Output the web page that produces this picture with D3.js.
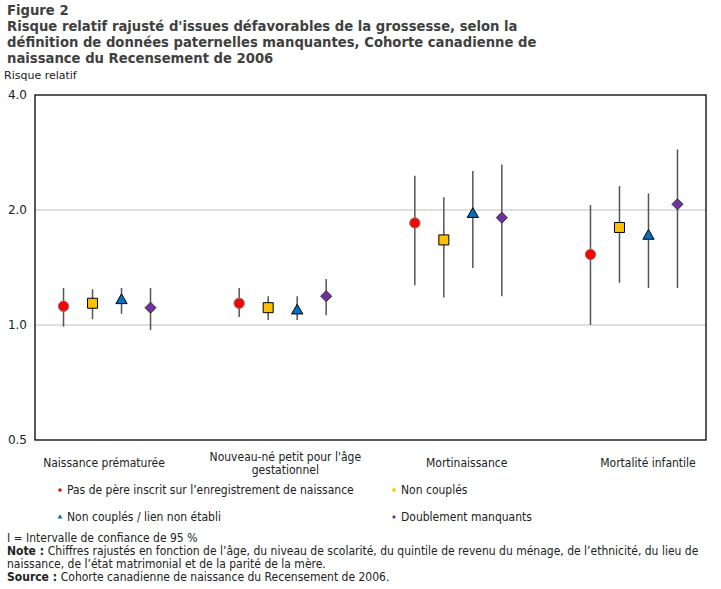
<!DOCTYPE html>
<html>
<head>
<meta charset="utf-8">
<script src="https://cdn.jsdelivr.net/npm/d3@7"></script>
<style>
  body { margin: 0; background: #fff; }
  svg text { font-family: "DejaVu Sans Condensed", "DejaVu Sans", sans-serif; }
</style>
</head>
<body>
<div class="chart"></div>
<script>
// data
const CATEGORIES = [
  ["Naissance prématurée"],
  ["Nouveau-né petit pour l'âge", "gestationnel"],
  ["Mortinaissance"],
  ["Mortalité infantile"],
];
const SERIES = [
  "Pas de père inscrit sur l’enregistrement de naissance",
  "Non couplés",
  "Non couplés / lien non établi",
  "Doublement manquants",
];
const EST_NOPERE = [1.12, 1.14, 1.85, 1.53];
const LOW_NOPERE = [0.99, 1.05, 1.27, 1.0];
const HIGH_NOPERE = [1.25, 1.25, 2.46, 2.06];
const EST_NONCOUPLES = [1.14, 1.11, 1.67, 1.8];
const LOW_NONCOUPLES = [1.035, 1.03, 1.18, 1.29];
const HIGH_NONCOUPLES = [1.24, 1.19, 2.16, 2.31];
const EST_LIEN = [1.16, 1.09, 1.95, 1.71];
const LOW_LIEN = [1.07, 1.03, 1.41, 1.25];
const HIGH_LIEN = [1.25, 1.19, 2.53, 2.21];
const EST_DOUBLE = [1.11, 1.19, 1.91, 2.07];
const LOW_DOUBLE = [0.97, 1.06, 1.19, 1.25];
const HIGH_DOUBLE = [1.25, 1.32, 2.63, 2.88];
const Y_TICKS = [0.5, 1, 2, 4];

const WIDTH = 721;
const HEIGHT = 589;
const PLOT = { left: 35, right: 706, top: 95, bottom: 440 };

const STYLES = [
  { type: d3.symbolCircle, size: 85, fill: "#ff0000", stroke: "#7f7f7f" },
  { type: d3.symbolSquare, size: 100, fill: "#ffc000", stroke: "#000" },
  { type: d3.symbolTriangle, size: 55, fill: "#0070c0", stroke: "#000" },
  { type: d3.symbolDiamond2 || d3.symbolDiamond, size: 78, fill: "#7030a0", stroke: "#333" },
];

const rows = [
  [EST_NOPERE, LOW_NOPERE, HIGH_NOPERE],
  [EST_NONCOUPLES, LOW_NONCOUPLES, HIGH_NONCOUPLES],
  [EST_LIEN, LOW_LIEN, HIGH_LIEN],
  [EST_DOUBLE, LOW_DOUBLE, HIGH_DOUBLE],
];
var points = [];
rows.forEach(function (r, s) {
  r[0].forEach(function (v, c) {
    points.push({ s: s, c: c, est: v, lo: r[1][c], hi: r[2][c] });
  });
});

var svg = d3
  .select(".chart")
  .append("svg")
  .attr("width", WIDTH)
  .attr("height", HEIGHT);

// title
const TITLE = [
  "Figure 2",
  "Risque relatif rajusté d'issues défavorables de la grossesse, selon la",
  "définition de données paternelles manquantes, Cohorte canadienne de",
  "naissance du Recensement de 2006",
];
svg
  .append("g")
  .selectAll("text")
  .data(TITLE)
  .join("text")
  .attr("x", 7)
  .attr("y", (d, i) => 15 + i * 16)
  .attr("fill", "#404040")
  .attr("font-weight", "bold")
  .style("font-family", "'DejaVu Sans', sans-serif")
  .attr("font-size", "13.2px")
  .text((d) => d);

svg
  .append("text")
  .attr("x", 4)
  .attr("y", 79)
  .attr("font-size", "11px")
  .attr("fill", "#222")
  .style("font-family", "'DejaVu Sans', sans-serif")
  .text("Risque relatif");

// scales
var x = d3
  .scalePoint()
  .domain(d3.range(CATEGORIES.length))
  .range([PLOT.left, PLOT.right])
  .padding(0.41);
var xs = d3.scaleBand().domain(d3.range(SERIES.length)).range([-58, 58]);
// category labels sit a bit wider apart than the marker groups
var xLabel = d3
  .scalePoint()
  .domain(d3.range(CATEGORIES.length))
  .range([PLOT.left + 69, PLOT.right - 58]);
var y = d3.scaleLog().base(2).domain([0.5, 4]).range([PLOT.bottom, PLOT.top]);

// gridlines
svg
  .append("g")
  .selectAll("line")
  .data(Y_TICKS.filter((d) => d > 0.5 && d < 4))
  .join("line")
  .attr("x1", PLOT.left)
  .attr("x2", PLOT.right)
  .attr("y1", (d) => y(d))
  .attr("y2", (d) => y(d))
  .attr("stroke", "#bfbfbf")
  .attr("stroke-width", 1);

// y axis labels
svg
  .append("g")
  .attr("transform", `translate(${PLOT.left},0)`)
  .call(d3.axisLeft(y).tickValues(Y_TICKS).tickFormat(d3.format(".1f")).tickSize(0).tickPadding(8))
  .call((g) => g.select(".domain").remove())
  .call((g) =>
    g.selectAll(".tick text").attr("font-size", "12px").attr("fill", "#222")
      .style("font-family", "'DejaVu Sans', sans-serif")
  );

// frame
svg
  .append("rect")
  .attr("x", PLOT.left)
  .attr("y", PLOT.top)
  .attr("width", PLOT.right - PLOT.left)
  .attr("height", PLOT.bottom - PLOT.top)
  .attr("fill", "none")
  .attr("stroke", "#000")
  .attr("stroke-width", 1.3);

// whiskers
svg
  .append("g")
  .selectAll("line")
  .data(points)
  .join("line")
  .attr("x1", (d) => x(d.c) + xs(d.s) + xs.bandwidth() / 2)
  .attr("x2", (d) => x(d.c) + xs(d.s) + xs.bandwidth() / 2)
  .attr("y1", (d) => y(d.lo))
  .attr("y2", (d) => y(d.hi))
  .attr("stroke", "#555")
  .attr("stroke-width", 1.5);

// markers
svg
  .append("g")
  .selectAll("path")
  .data(points)
  .join("path")
  .attr("transform", (d) =>
    `translate(${x(d.c) + xs(d.s) + xs.bandwidth() / 2},${y(d.est)})`
  )
  .attr("d", (d) => d3.symbol().type(STYLES[d.s].type).size(STYLES[d.s].size)())
  .attr("fill", (d) => STYLES[d.s].fill)
  .attr("stroke", (d) => STYLES[d.s].stroke)
  .attr("stroke-width", 1);

// category labels
svg
  .append("g")
  .selectAll("text")
  .data(CATEGORIES)
  .join("text")
  .attr("text-anchor", "middle")
  .attr("font-size", "12px")
  .attr("fill", "#222")
  .attr("x", (d, i) => xLabel(i))
  .attr("y", (d) => (d.length > 1 ? 461 : 467))
  .each(function (d) {
    d3.select(this)
      .selectAll("tspan")
      .data(d)
      .join("tspan")
      .attr("x", d3.select(this).attr("x"))
      .attr("dy", (t, j) => (j === 0 ? 0 : 13))
      .text((t) => t);
  });

// legend
const LEGEND_POS = [
  [60, 490],
  [394, 490],
  [60, 517],
  [394, 517],
];
var legend = svg
  .append("g")
  .selectAll("g")
  .data(SERIES)
  .join("g")
  .attr("transform", (d, i) => `translate(${LEGEND_POS[i][0]},${LEGEND_POS[i][1]})`);
legend
  .append("path")
  .attr("d", (d, i) => d3.symbol().type(STYLES[i].type).size(10)())
  .attr("fill", (d, i) => STYLES[i].fill);
legend
  .append("text")
  .attr("x", 7)
  .attr("y", 4)
  .attr("font-size", "12px")
  .attr("fill", "#222")
  .text((d) => d);

// notes
var notes = svg.append("g").attr("font-size", "12px").attr("fill", "#222");
notes.append("text").attr("x", 7).attr("y", 542).text("I = Intervalle de confiance de 95 %");
var n1 = notes.append("text").attr("x", 7).attr("y", 555);
n1.append("tspan").attr("font-weight", "bold").text("Note : ");
n1.append("tspan").text("Chiffres rajustés en fonction de l’âge, du niveau de scolarité, du quintile de revenu du ménage, de l’ethnicité, du lieu de");
notes.append("text").attr("x", 7).attr("y", 568).text("naissance, de l’état matrimonial et de la parité de la mère.");
var n2 = notes.append("text").attr("x", 7).attr("y", 581);
n2.append("tspan").attr("font-weight", "bold").text("Source : ");
n2.append("tspan").text("Cohorte canadienne de naissance du Recensement de 2006.");
</script>
</body>
</html>
